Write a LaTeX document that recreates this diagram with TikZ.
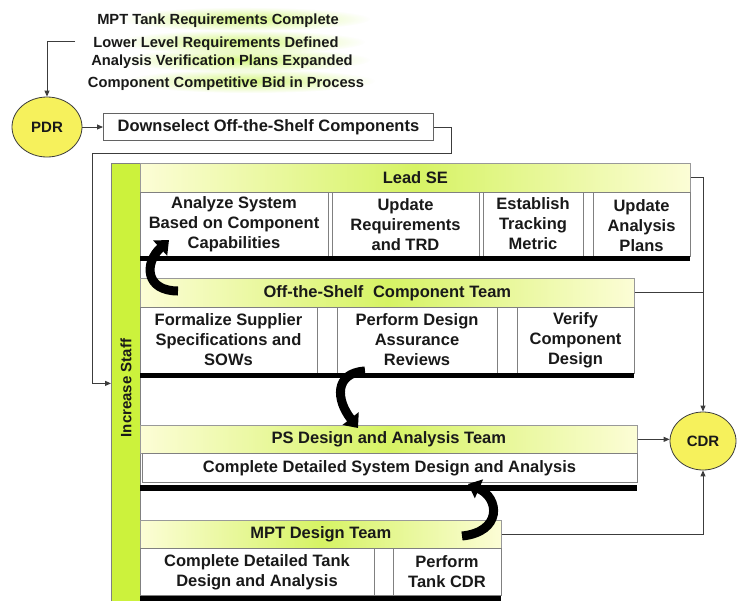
\documentclass[tikz,border=0pt]{standalone}
\usepackage{fontspec}
\setmainfont{Liberation Sans}
\usetikzlibrary{arrows.meta,calc,shapes.geometric,fadings}
\definecolor{limebar}{RGB}{204,242,60}
\definecolor{milestone}{RGB}{246,241,92}
\definecolor{barpale}{RGB}{252,253,214}
\definecolor{barlime}{RGB}{214,243,100}
\definecolor{rulegray}{RGB}{128,128,128}
\definecolor{wire}{RGB}{60,60,60}
\definecolor{glow}{RGB}{200,244,90}

% soft radial halo used behind the status notes
\tikzfading[name=halo, inner color=transparent!25, outer color=transparent!100]

\tikzset{
  every node/.style={font=\bfseries\fontsize{16.5}{20}\selectfont, inner sep=0pt, text=black!90},
  note/.style={font=\bfseries\fontsize{14.7}{17}\selectfont, anchor=base},
  milestone/.style={ellipse, draw=wire, line width=0.8pt, fill=milestone},
  teambar/.style={draw=rulegray!80, line width=0.7pt, left color=barpale, right color=barpale, middle color=barlime, anchor=north west},
  cellrow/.style={draw=rulegray, line width=0.8pt, fill=white, anchor=north west},
  divider/.style={draw=rulegray, line width=0.8pt},
  thickrule/.style={line width=5.5pt, black},
  conn/.style={draw=wire, line width=0.9pt},
  arr/.style={conn, -{Triangle[length=6pt,width=5pt]}},
  bigarrow/.style={line width=9pt, black, -{Triangle[length=12pt,width=20pt]}},
}

\begin{document}
\begin{tikzpicture}[x=1pt,y=-1pt]
\useasboundingbox (0,0) rectangle (739,600);
\fill[white] (0,0) rectangle (739,600);

% status notes with a soft green halo
\foreach \yy/\xx in {19/245, 42/240, 60/245, 81/250}
  \fill[glow, path fading=halo] (\xx,\yy) ellipse [x radius=125, y radius=12];
\node[note] (n1) at (218,24) {MPT Tank Requirements Complete};
\node[note] (n2) at (216,47) {Lower Level Requirements Defined};
\node[note] (n3) at (222,65) {Analysis Verification Plans Expanded};
\node[note] (n4) at (226,87) {Component Competitive Bid in Process};

% milestones
\node[milestone, minimum width=70, minimum height=60] (pdr) at (47,127) {\fontsize{15}{18}\selectfont PDR};
\node[milestone, minimum width=66, minimum height=58] (cdr) at (703,441) {\fontsize{15}{18}\selectfont CDR};

\node[draw=wire!80, line width=0.8pt, fill=white, minimum width=330, minimum height=27, anchor=west] (down) at (103,127) {Downselect Off-the-Shelf Components};

% staffing bar
\node[draw=rulegray, line width=0.8pt, fill=limebar, minimum width=29, minimum height=440, anchor=north west] (staff) at (111,163) {};
\node[rotate=90, font=\bfseries\fontsize{15}{18}\selectfont] (stafftxt) at (126,388) {Increase Staff};

% Lead SE
\node[teambar, minimum width=550, minimum height=29] (lead) at (140,163) {Lead SE};
\node[cellrow, minimum width=550, minimum height=64] (leadrow) at (140,192) {};
\foreach \xx in {328,332,479,483,583,593} \draw[divider] (\xx,192) -- (\xx,256);
\draw[thickrule] (140,258.5) -- (690,258.5);
\node[align=center] (l1) at (234,224) {Analyze System\\Based on Component\\Capabilities};
\node[align=center] (l2) at (405.5,225) {Update\\Requirements\\and TRD};
\node[align=center] (l3) at (533,224) {Establish\\Tracking\\Metric};
\node[align=center] (l4) at (641.5,226) {Update\\Analysis\\Plans};

% Off-the-Shelf Component Team
\node[teambar, minimum width=494, minimum height=29] (ots) at (140,278) {Off-the-Shelf\hspace{0.3em} Component Team};
\node[cellrow, minimum width=494, minimum height=66] (otsrow) at (140,307) {};
\foreach \xx in {317,337,497,517} \draw[divider] (\xx,307) -- (\xx,373);
\draw[thickrule] (140,375.5) -- (634,375.5);
\node[align=center] (o1) at (228.5,340) {Formalize Supplier\\Specifications and\\SOWs};
\node[align=center] (o2) at (417,340) {Perform Design\\Assurance\\Reviews};
\node[align=center] (o3) at (575.5,340) {Verify\\Component\\Design};

% PS Design and Analysis Team
\node[teambar, minimum width=497, minimum height=28] (ps) at (140,425) {PS Design and Analysis Team};
\node[cellrow, minimum width=495, minimum height=29] (psrow) at (142,453) {};
\node (p1) at (389.5,468) {Complete Detailed System Design and Analysis};
\draw[thickrule, line width=6pt] (140,488) -- (637,488);

% MPT Design Team
\node[teambar, minimum width=361, minimum height=28] (mpt) at (140,520) {MPT Design Team};
\node[cellrow, minimum width=361, minimum height=47] (mptrow) at (140,548) {};
\foreach \xx in {374,393} \draw[divider] (\xx,548) -- (\xx,595);
\draw[thickrule] (140,598.5) -- (501,598.5);
\node[align=center] (m1) at (257,572) {Complete Detailed Tank\\Design and Analysis};
\node[align=center] (m2) at (447,572) {Perform\\Tank CDR};

% hand-offs between teams
\coordinate (h1a) at (178,291);
\coordinate (h1b) at (169,240);
\draw[bigarrow] (h1a) .. controls (145,291) and (144,263) .. (h1b);
\coordinate (h2a) at (365,371);
\coordinate (h2b) at (358,428);
\draw[bigarrow] (h2a) .. controls (334,373) and (336,400) .. (h2b);
\coordinate (h3a) at (462,536);
\coordinate (h3b) at (468,484);
\draw[bigarrow] (h3a) .. controls (502,532) and (500,498) .. (h3b);

% flow connectors
\coordinate (notesend) at (75,41);
\draw[arr] (notesend) -| (pdr);
\draw[arr] (pdr.east) -- (down.west);
\draw[arr] (down.east) -- ++(18,0) |- (92,153) |- (staff.west);
\draw[arr] (lead.east) -| (cdr.north);
\draw[conn] (ots.east) -- (ots.east -| cdr.north);
\draw[arr] (ps.east) -- (ps.east -| cdr.west);
\draw[arr] (mpt.east) -| (cdr.south);
\end{tikzpicture}
\end{document}
